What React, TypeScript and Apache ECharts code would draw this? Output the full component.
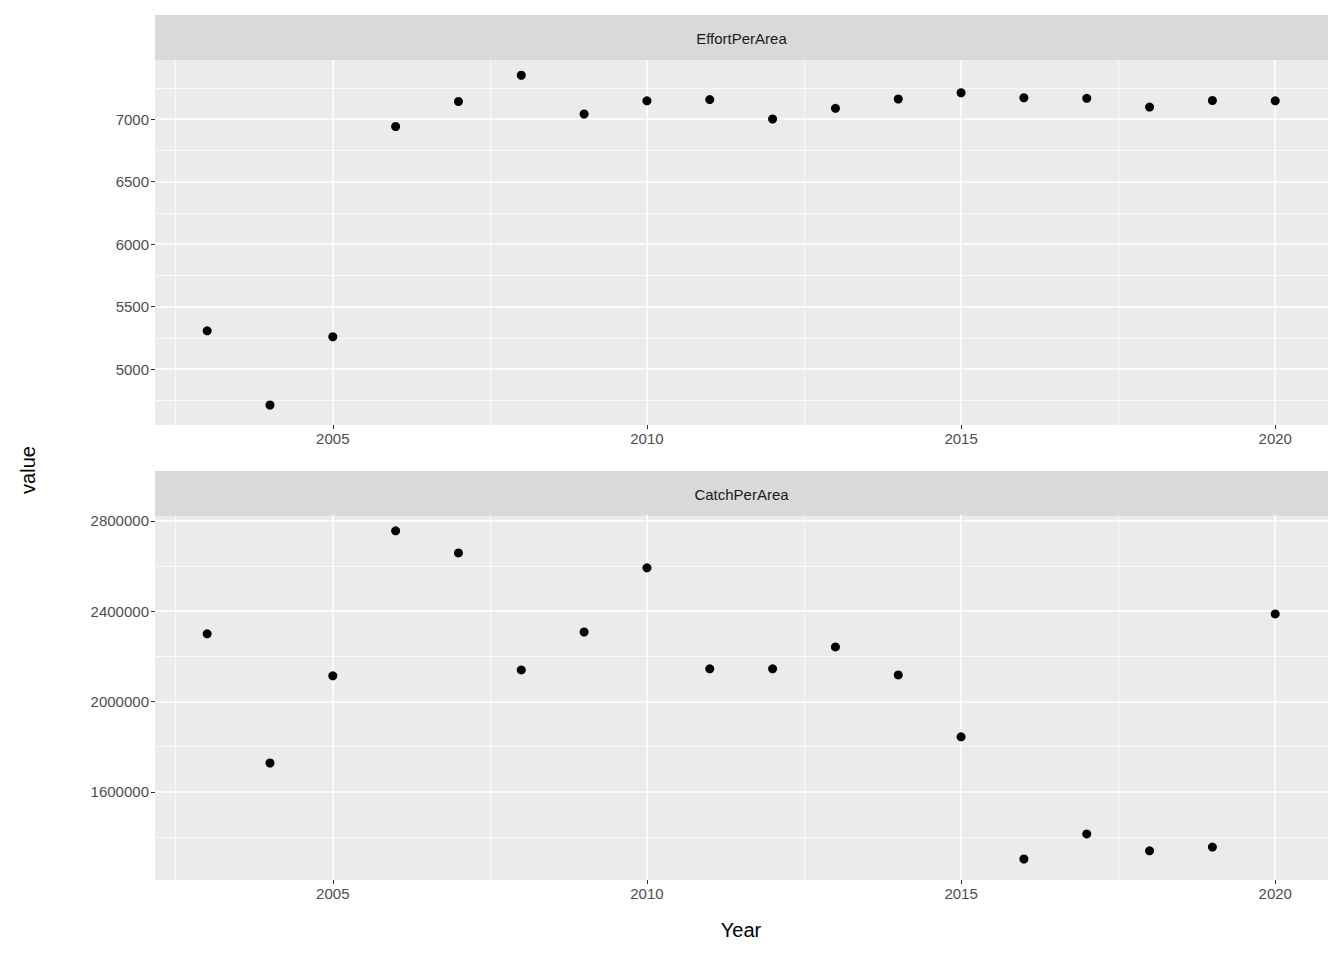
import React, { useEffect, useRef } from 'react';
import * as echarts from 'echarts';

const years = [2003, 2004, 2005, 2006, 2007, 2008, 2009, 2010, 2011, 2012, 2013, 2014, 2015, 2016, 2017, 2018, 2019, 2020];
const effortPerArea = [5305, 4712, 5258, 6940, 7140, 7350, 7040, 7145, 7155, 7000, 7085, 7160, 7210, 7170, 7165, 7095, 7148, 7145];
const catchPerArea = [2300000, 1728000, 2114000, 2756000, 2658000, 2140000, 2308000, 2592000, 2145000, 2145000, 2242000, 2118000, 1844000, 1303000, 1414000, 1339000, 1356000, 2388000];

const xMajor = [2005, 2010, 2015, 2020];
const xMinor = [2002.5, 2007.5, 2012.5, 2017.5];
const effortMajor = [5000, 5500, 6000, 6500, 7000];
const effortMinor = [4750, 5250, 5750, 6250, 6750, 7250];
const catchMajor = [1600000, 2000000, 2400000, 2800000];
const catchMinor = [1400000, 1800000, 2200000, 2600000];

const FONT = '"Liberation Sans", Arial, sans-serif';

const App: React.FC = () => {
  const chartRef = useRef<HTMLDivElement>(null);

  useEffect(() => {
    if (!chartRef.current) return;
    const chart = echarts.init(chartRef.current, null, { renderer: 'svg' });

    const xAxisCfg = (gridIndex: number) => ({
      type: 'value',
      gridIndex,
      min: 2002.17,
      max: 2020.84,
      axisLine: { show: false },
      splitLine: { show: false },
      axisTick: { show: true, customValues: xMajor, length: 4, lineStyle: { color: '#333' } },
      axisLabel: {
        customValues: xMajor,
        color: '#4D4D4D',
        fontSize: 15,
        fontFamily: FONT,
        margin: 6,
        formatter: (v: number) => String(v),
      },
    });
    const yAxisCfg = (gridIndex: number, min: number, max: number, major: number[]) => ({
      type: 'value',
      gridIndex,
      min,
      max,
      axisLine: { show: false },
      splitLine: { show: false },
      axisTick: { show: true, customValues: major, length: 4, lineStyle: { color: '#333' } },
      axisLabel: {
        customValues: major,
        color: '#4D4D4D',
        fontSize: 15,
        fontFamily: FONT,
        margin: 6,
        formatter: (v: number) => String(v),
      },
    });

    const gridLines = (idx: number, yMajor: number[], yMinor: number[]) => ({
      type: 'scatter',
      xAxisIndex: idx,
      yAxisIndex: idx,
      data: [],
      z: 1,
      silent: true,
      markLine: {
        silent: true,
        symbol: 'none',
        animation: false,
        label: { show: false },
        data: [
          ...xMinor.map((v) => ({ xAxis: v, lineStyle: { color: '#fff', width: 0.7, type: 'solid', opacity: 1 } })),
          ...yMinor.map((v) => ({ yAxis: v, lineStyle: { color: '#fff', width: 0.7, type: 'solid', opacity: 1 } })),
          ...xMajor.map((v) => ({ xAxis: v, lineStyle: { color: '#fff', width: 1.5, type: 'solid', opacity: 1 } })),
          ...yMajor.map((v) => ({ yAxis: v, lineStyle: { color: '#fff', width: 1.5, type: 'solid', opacity: 1 } })),
        ],
      },
    });

    const strip = (top: number, text: string) => [
      { type: 'rect', left: 155, top, shape: { width: 1173, height: 45 }, style: { fill: '#D9D9D9' } },
      {
        type: 'text',
        x: 155 + 1173 / 2,
        y: top + 23,
        style: { text, fill: '#1A1A1A', fontSize: 15, fontFamily: FONT, align: 'center', verticalAlign: 'middle' },
      },
    ];

    const points = (idx: number, values: number[]) => ({
      type: 'scatter',
      xAxisIndex: idx,
      yAxisIndex: idx,
      zlevel: 1,
      z: 3,
      symbolSize: 9,
      itemStyle: { color: '#000', opacity: 1 },
      data: years.map((y, i) => [y, values[i]]),
    });

    chart.setOption({
      animation: false,
      grid: [
        { left: 155, top: 60, width: 1173, height: 365, show: true, backgroundColor: '#EBEBEB', borderWidth: 0 },
        { left: 155, top: 515, width: 1173, height: 365, show: true, backgroundColor: '#EBEBEB', borderWidth: 0 },
      ],
      xAxis: [xAxisCfg(0), xAxisCfg(1)],
      yAxis: [yAxisCfg(0, 4552, 7472, effortMajor), yAxisCfg(1, 1210000, 2826000, catchMajor)],
      graphic: [
        ...strip(15, 'EffortPerArea'),
        ...strip(471, 'CatchPerArea'),
        {
          type: 'text',
          x: 28,
          y: 470,
          rotation: Math.PI / 2,
          style: { text: 'value', fill: '#000', fontSize: 20, fontFamily: FONT, align: 'center', verticalAlign: 'middle' },
        },
        {
          type: 'text',
          x: 741,
          y: 930,
          style: { text: 'Year', fill: '#000', fontSize: 20, fontFamily: FONT, align: 'center', verticalAlign: 'middle' },
        },
      ],
      series: [
        gridLines(0, effortMajor, effortMinor),
        gridLines(1, catchMajor, catchMinor),
        points(0, effortPerArea),
        points(1, catchPerArea),
      ],
    });

    return () => chart.dispose();
  }, []);

  return <div ref={chartRef} style={{ width: 1344, height: 960, margin: -8 }} />;
};

export default App;
